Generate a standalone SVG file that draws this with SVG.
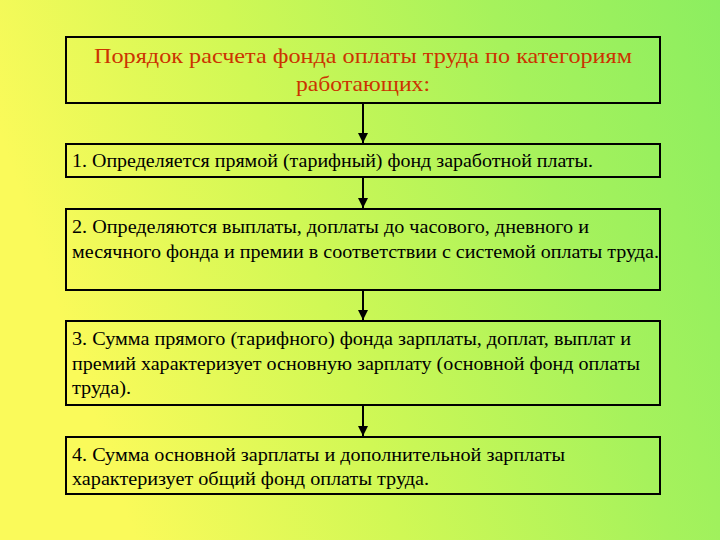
<svg xmlns="http://www.w3.org/2000/svg" width="720" height="540" viewBox="0 0 720 540">
<defs>
<linearGradient id="bg" x1="0" y1="0.25" x2="1" y2="0">
<stop offset="0" stop-color="#fafa5a"/>
<stop offset="0.35" stop-color="#d0f855"/>
<stop offset="0.7" stop-color="#a6f25c"/>
<stop offset="1" stop-color="#8cee60"/>
</linearGradient>
<marker id="ar" viewBox="0 0 10 10" refX="10" refY="5" markerWidth="5" markerHeight="5" orient="auto"><path d="M0,0 L10,5 L0,10 z" fill="#000"/></marker>
<style>
.box{fill:none;stroke:#000;stroke-width:2}
.t{font-family:"Liberation Serif","Times New Roman","DejaVu Serif",serif;font-size:18px;fill:#000}
.h{font-family:"Liberation Serif","Times New Roman","DejaVu Serif",serif;font-size:21px;fill:#cc3300;text-anchor:middle}
.c{stroke:#000;stroke-width:2;fill:none}
</style>
</defs>
<rect width="720" height="540" fill="url(#bg)"/>
<g id="title"><rect class="box" x="66" y="37" width="594" height="66"/>
<text class="h" x="363" y="63" textLength="538" lengthAdjust="spacingAndGlyphs">Порядок расчета фонда оплаты труда по категориям</text>
<text class="h" x="363" y="91" textLength="134" lengthAdjust="spacingAndGlyphs">работающих:</text></g>
<g id="n1"><rect class="box" x="66" y="144" width="594" height="33"/>
<text class="t" x="72" y="167" textLength="521" lengthAdjust="spacingAndGlyphs">1. Определяется прямой (тарифный) фонд заработной платы.</text></g>
<g id="n2"><rect class="box" x="66" y="209" width="594" height="81"/>
<text class="t" x="72" y="233" textLength="517" lengthAdjust="spacingAndGlyphs">2. Определяются выплаты, доплаты до часового, дневного и</text>
<text class="t" x="72" y="258" textLength="587" lengthAdjust="spacingAndGlyphs">месячного фонда и премии в соответствии с системой оплаты труда.</text></g>
<g id="n3"><rect class="box" x="66" y="321" width="594" height="84"/>
<text class="t" x="72" y="345" textLength="559" lengthAdjust="spacingAndGlyphs">3. Сумма прямого (тарифного) фонда зарплаты, доплат, выплат и</text>
<text class="t" x="72" y="370" textLength="568" lengthAdjust="spacingAndGlyphs">премий характеризует основную зарплату (основной фонд оплаты</text>
<text class="t" x="72" y="394" textLength="59" lengthAdjust="spacingAndGlyphs">труда).</text></g>
<g id="n4"><rect class="box" x="66" y="437" width="594" height="57"/>
<text class="t" x="72" y="461" textLength="493" lengthAdjust="spacingAndGlyphs">4. Сумма основной зарплаты и дополнительной зарплаты</text>
<text class="t" x="72" y="485" textLength="357" lengthAdjust="spacingAndGlyphs">характеризует общий фонд оплаты труда.</text></g>
<g id="connectors">
<line class="c" x1="363" y1="104" x2="363" y2="143" marker-end="url(#ar)"/>
<line class="c" x1="363" y1="178" x2="363" y2="208" marker-end="url(#ar)"/>
<line class="c" x1="363" y1="291" x2="363" y2="320" marker-end="url(#ar)"/>
<line class="c" x1="363" y1="406" x2="363" y2="436" marker-end="url(#ar)"/>
</g>
</svg>
